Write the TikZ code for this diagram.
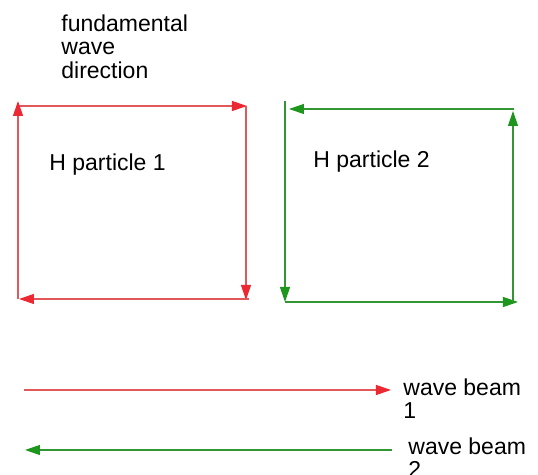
\documentclass[tikz,border=0pt]{standalone}
\usepackage{fontspec}
\setmainfont{Liberation Sans}
\usetikzlibrary{arrows.meta}

\definecolor{linered}{RGB}{224,88,90}
\definecolor{headred}{RGB}{236,40,50}
\definecolor{linegreen}{RGB}{50,150,50}
\definecolor{headgreen}{RGB}{30,150,30}

\begin{document}
\begin{tikzpicture}[x=0.5pt,y=-0.5pt,
    redarrow/.style={draw=linered,line width=0.6pt,-{Triangle[length=7.5pt,width=5pt,color=headred]}},
    greenarrow/.style={draw=linegreen,line width=0.6pt,-{Triangle[length=7.5pt,width=5pt,color=headgreen]}},
    txt/.style={inner sep=0pt,align=left,font=\fontsize{11.5}{11.75}\selectfont}]
  \useasboundingbox (0,0) rectangle (538,475);
  % text
  \node[txt,anchor=north west] (dirtext) at (61,14) {fundamental\\wave\\direction};
  \node[txt,anchor=base west] (hone) at (49,171) {H particle 1};
  \node[txt,anchor=base west] (htwo) at (313,168) {H particle 2};
  \node[txt,anchor=north west] (beamone) at (403,378) {wave beam\\1};
  \node[txt,anchor=north west] (beamtwo) at (408,437) {wave beam\\2};
  % particle 1
  \coordinate (a1) at (18,106);
  \coordinate (a2) at (247,106);
  \coordinate (a3) at (246,106);
  \coordinate (a4) at (246,300);
  \coordinate (a5) at (249,299);
  \coordinate (a6) at (19,299);
  \coordinate (a7) at (18,299);
  \coordinate (a8) at (18,101);
  \draw[redarrow] (a1) -- (a2);
  \draw[redarrow] (a3) -- (a4);
  \draw[redarrow] (a5) -- (a6);
  \draw[redarrow] (a7) -- (a8);
  % particle 2
  \coordinate (b1) at (285,101);
  \coordinate (b2) at (285,302);
  \coordinate (b3) at (518,302);
  \coordinate (b4) at (513,302);
  \coordinate (b5) at (513,111);
  \coordinate (b6) at (514,109);
  \coordinate (b7) at (289,109);
  \draw[greenarrow] (b1) -- (b2);
  \draw[greenarrow] (b2) -- (b3);
  \draw[greenarrow] (b4) -- (b5);
  \draw[greenarrow] (b6) -- (b7);
  % beams
  \coordinate (c1) at (24,390);
  \coordinate (c2) at (391,390);
  \coordinate (d1) at (392,450);
  \coordinate (d2) at (25,450);
  \draw[redarrow] (c1) -- (c2);
  \draw[greenarrow] (d1) -- (d2);
\end{tikzpicture}
\end{document}
